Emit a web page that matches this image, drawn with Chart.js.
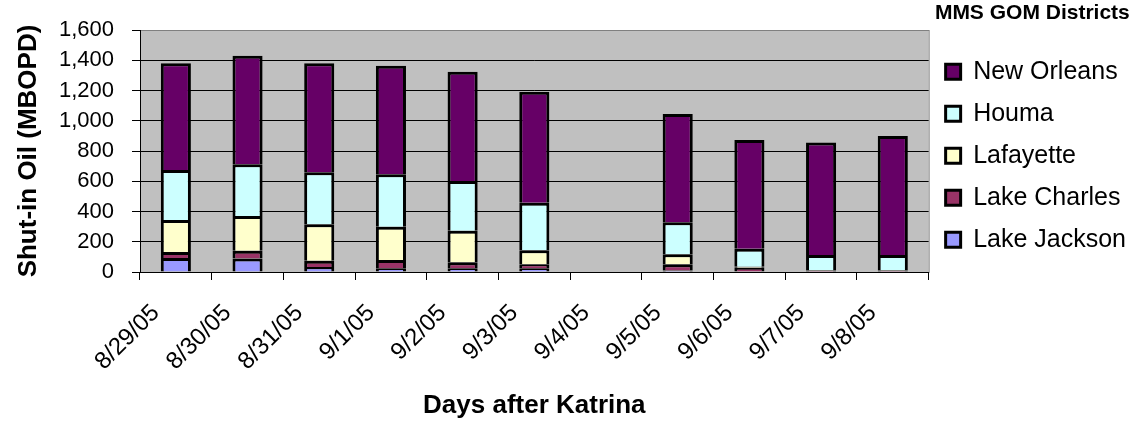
<!DOCTYPE html>
<html>
<head>
<meta charset="utf-8">
<script src="https://cdn.jsdelivr.net/npm/chart.js@4"></script>
<style>
  body { margin: 0; background: #fff; }
</style>
</head>
<body>
<canvas id="oilChart" width="1143" height="424"></canvas>
<script>
// Dates after Katrina
const days = ["8/29/05", "8/30/05", "8/31/05", "9/1/05", "9/2/05", "9/3/05",
  "9/4/05", "9/5/05", "9/6/05", "9/7/05", "9/8/05"];

// Shut-in oil by district (MBOPD), no report on 9/4
const lakeJackson = [93, 90, 33, 24, 24, 24, null, 10, 3, 4, 4];
const lakeCharles = [39, 51, 42, 55, 40, 27, null, 41, 25, 6, 6];
const lafayette = [212, 229, 240, 221, 209, 92, null, 66, 7, 3, 3];
const houma = [330, 342, 344, 346, 329, 315, null, 212, 119, 99, 99];
const newOrleans = [706, 718, 721, 718, 722, 734, null, 716, 719, 745, 787];

const FONT = "'Liberation Sans', Arial, sans-serif";

// gray plot area like the Excel original
const plotBackground = {
  id: "plotBackground",
  beforeDraw(chart) {
    const { ctx, chartArea } = chart;
    ctx.save();
    ctx.fillStyle = "#C0C0C0";
    ctx.fillRect(chartArea.left, chartArea.top, chartArea.width, chartArea.height);
    ctx.strokeStyle = "#808080";
    ctx.lineWidth = 1;
    ctx.strokeRect(chartArea.left + 0.5, chartArea.top + 0.5, chartArea.width, chartArea.height);
    ctx.restore();
  },
};

function district(label, data, color) {
  return {
    label: label,
    data: data,
    backgroundColor: color,
    borderColor: "#000",
    borderWidth: 3,
    barPercentage: 0.42,
    categoryPercentage: 1,
  };
}

const ctx = document.getElementById("oilChart").getContext("2d");
new Chart(ctx, {
  type: "bar",
  data: {
    labels: days,
    datasets: [
      district("Lake Jackson", lakeJackson, "#9999FF"),
      district("Lake Charles", lakeCharles, "#993366"),
      district("Lafayette", lafayette, "#FFFFCC"),
      district("Houma", houma, "#CCFFFF"),
      district("New Orleans", newOrleans, "#660066"),
    ],
  },
  options: {
    responsive: false,
    animation: false,
    layout: { padding: { right: 7 } },
    plugins: {
      tooltip: { enabled: false },
      title: { display: false },
      legend: {
        position: "right",
        align: "start",
        reverse: true,
        title: {
          display: true,
          text: "MMS GOM Districts",
          position: "center",
          color: "#000",
          font: { family: FONT, size: 21, weight: "bold" },
          padding: { top: 3, bottom: 14 },
        },
        labels: {
          color: "#000",
          boxWidth: 15,
          boxHeight: 15,
          padding: 17,
          font: { family: FONT, size: 25 },
        },
      },
    },
    scales: {
      x: {
        stacked: true,
        afterFit(scale) {
          scale.height = 152;
        },
        grid: {
          drawOnChartArea: false,
          drawTicks: true,
          tickLength: 8,
          color: "#000",
        },
        border: { color: "#000", width: 1 },
        ticks: {
          color: "#000",
          autoSkip: false,
          maxRotation: 45,
          minRotation: 45,
          padding: 19,
          labelOffset: -20,
          font: { family: FONT, size: 24 },
        },
        title: {
          display: true,
          text: "Days after Katrina",
          color: "#000",
          font: { family: FONT, size: 26, weight: "bold" },
          padding: { top: 0, bottom: 3 },
        },
      },
      y: {
        stacked: true,
        min: 0,
        max: 1600,
        afterFit(scale) {
          scale.width = 140;
          scale.paddingTop = 30;
        },
        grid: {
          color: (c) => (c.tick && c.tick.value === 1600 ? "#808080" : "#000"),
          tickColor: "#000",
          tickLength: 8,
        },
        border: { color: "#000", width: 1 },
        ticks: {
          stepSize: 200,
          color: "#000",
          padding: 18,
          font: { family: FONT, size: 22 },
        },
        title: {
          display: true,
          text: "Shut-in Oil (MBOPD)",
          color: "#000",
          font: { family: FONT, size: 26, weight: "bold" },
          padding: { top: 13, bottom: 0 },
        },
      },
    },
  },
  plugins: [plotBackground],
});
</script>
</body>
</html>
